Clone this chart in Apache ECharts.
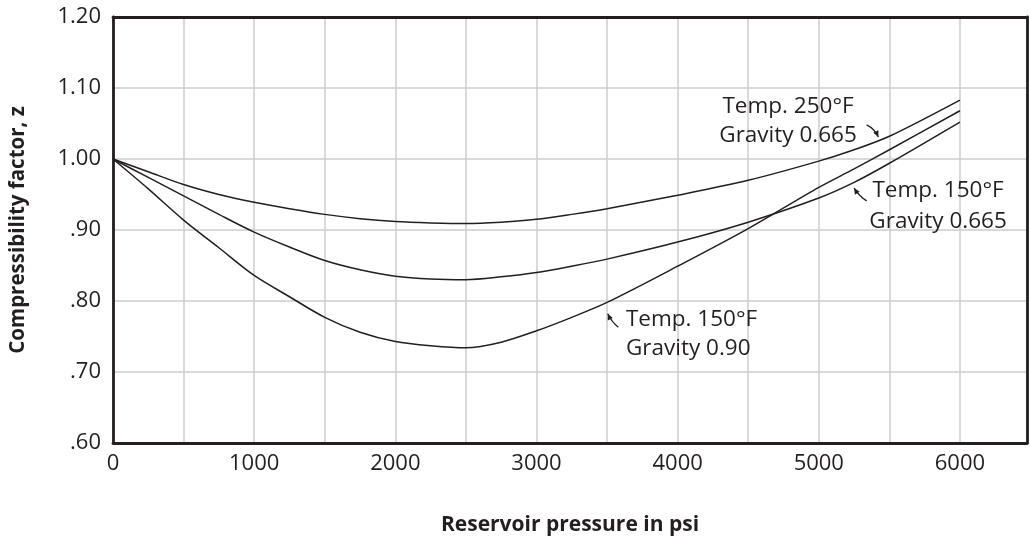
<!DOCTYPE html>
<html>
<head>
<meta charset="utf-8">
<title>Compressibility factor vs reservoir pressure</title>
<script src="https://cdn.jsdelivr.net/npm/echarts@6/dist/echarts.min.js"></script>
<style>
  html, body { margin: 0; padding: 0; background: #ffffff; }
  #chart { width: 1030px; height: 541px; }
</style>
</head>
<body>
<div id="chart"></div>
<script>
// Reservoir pressure (psi) at which each curve is sampled
const pressure = [0, 250, 500, 750, 1000, 1250, 1500, 1750, 2000, 2250, 2500, 2750, 3000, 3250, 3500, 4000, 4500, 5000, 5250, 5500, 6000];

// Compressibility factor z for each gas
const zTemp250Grav0665 = [1.000, 0.982, 0.964, 0.950, 0.939, 0.930, 0.922, 0.916, 0.912, 0.910, 0.909, 0.911, 0.915, 0.922, 0.930, 0.949, 0.970, 0.997, 1.013, 1.032, 1.083];
const zTemp150Grav0665 = [1.000, 0.974, 0.948, 0.922, 0.897, 0.876, 0.857, 0.844, 0.835, 0.831, 0.830, 0.834, 0.840, 0.849, 0.859, 0.883, 0.911, 0.945, 0.967, 0.994, 1.052];
const zTemp150Grav090  = [1.000, 0.958, 0.914, 0.875, 0.836, 0.806, 0.777, 0.756, 0.743, 0.737, 0.734, 0.742, 0.758, 0.777, 0.798, 0.849, 0.902, 0.960, 0.986, 1.013, 1.068];

// Tick labels
const yTickLabels = ['.60', '.70', '.80', '.90', '1.00', '1.10', '1.20'];
const xTickLabels = ['0', '1000', '2000', '3000', '4000', '5000', '6000'];

const INK = '#231f20';
const GRID = '#cdcdcd';
const FONT = '"Open Sans", "Noto Sans", sans-serif';

const chart = echarts.init(document.getElementById('chart'), null, { renderer: 'canvas' });

function curve(name, values) {
  return {
    name: name,
    type: 'line',
    data: pressure.map((p, i) => [p, values[i]]),
    smooth: 0.3,
    symbol: 'none',
    lineStyle: { color: INK, width: 1.5 },
    z: 5
  };
}

const frameLine = { show: true, onZero: false, lineStyle: { color: INK, width: 2.8 } };

chart.setOption({
  animation: false,
  backgroundColor: '#ffffff',
  grid: { left: 113, right: 3, top: 17, bottom: 98, containLabel: false, outerBoundsMode: 'none' },
  xAxis: [
    {
      type: 'value', min: 0, max: 6475, interval: 500,
      axisLine: frameLine,
      axisTick: { show: false },
      splitLine: { show: true, lineStyle: { color: GRID, width: 1.5 } },
      axisLabel: {
        color: INK, fontSize: 22, fontFamily: FONT, margin: 10,
        formatter: v => (v % 1000 === 0 ? xTickLabels[v / 1000] || '' : '')
      },
      name: 'Reservoir pressure in psi',
      nameLocation: 'middle', nameGap: 72,
      nameTextStyle: { color: INK, fontSize: 21, fontWeight: 'bold', fontFamily: FONT }
    },
    {
      type: 'value', position: 'top', min: 0, max: 6475,
      axisLine: frameLine, axisTick: { show: false },
      axisLabel: { show: false }, splitLine: { show: false }
    }
  ],
  yAxis: [
    {
      type: 'value', min: 0.6, max: 1.2, interval: 0.1,
      axisLine: frameLine,
      axisTick: { show: false },
      splitLine: { show: true, lineStyle: { color: GRID, width: 1.5 } },
      axisLabel: {
        color: INK, fontSize: 22, fontFamily: FONT, margin: 12,
        formatter: v => yTickLabels[Math.round((v - 0.6) * 10)] || ''
      },
      name: 'Compressibility factor, z',
      nameLocation: 'middle', nameGap: 84, nameRotate: 90,
      nameTextStyle: { color: INK, fontSize: 20.5, fontWeight: 'bold', fontFamily: FONT }
    },
    {
      type: 'value', position: 'right', min: 0.6, max: 1.2,
      axisLine: frameLine, axisTick: { show: false },
      axisLabel: { show: false }, splitLine: { show: false }
    }
  ],
  series: [
    curve('Temp. 250°F, Gravity 0.665', zTemp250Grav0665),
    curve('Temp. 150°F, Gravity 0.665', zTemp150Grav0665),
    curve('Temp. 150°F, Gravity 0.90', zTemp150Grav090)
  ]
});

// Curve labels with small pointer arrows, anchored in data coordinates
const notes = [
  { text: 'Temp. 250°F\nGravity 0.665', at: [4782, 1.053], align: 'center', lineHeight: 29,
    arrow: { from: [5339, 1.048], to: [5422, 1.031], bend: 3 } },
  { text: 'Temp. 150°F\nGravity 0.665', at: [5845, 0.933], align: 'center', lineHeight: 31,
    arrow: { from: [5339, 0.941], to: [5250, 0.959], bend: 2 } },
  { text: 'Temp. 150°F\nGravity 0.90', at: [3634, 0.7535], align: 'left', lineHeight: 29.5,
    arrow: { from: [3580, 0.763], to: [3505, 0.782], bend: 2 } }
];

function toPx(pt) {
  return chart.convertToPixel({ xAxisIndex: 0, yAxisIndex: 0 }, pt);
}

const elements = [];
notes.forEach(n => {
  const p = toPx(n.at);
  elements.push({
    type: 'text', x: p[0], y: p[1], z: 20,
    style: {
      text: n.text, fill: INK, fontSize: 22.5, fontFamily: FONT,
      align: n.align, verticalAlign: 'middle', lineHeight: n.lineHeight
    }
  });
  const a = toPx(n.arrow.from);
  const b = toPx(n.arrow.to);
  const dx = b[0] - a[0], dy = b[1] - a[1];
  const len = Math.hypot(dx, dy);
  const nx = dy / len, ny = -dx / len;
  const c = [(a[0] + b[0]) / 2 + nx * n.arrow.bend, (a[1] + b[1]) / 2 + ny * n.arrow.bend];
  elements.push({
    type: 'bezierCurve', z: 20,
    shape: { x1: a[0], y1: a[1], x2: b[0], y2: b[1], cpx1: c[0], cpy1: c[1] },
    style: { stroke: INK, lineWidth: 1.3, fill: 'none' }
  });
  const ux = b[0] - c[0], uy = b[1] - c[1];
  const ul = Math.hypot(ux, uy);
  const tx = ux / ul, ty = uy / ul;
  const L = 6, W = 2.8;
  elements.push({
    type: 'polygon', z: 20,
    shape: { points: [
      [b[0], b[1]],
      [b[0] - L * tx - W * ty, b[1] - L * ty + W * tx],
      [b[0] - L * tx + W * ty, b[1] - L * ty - W * tx]
    ] },
    style: { fill: INK, stroke: 'none' }
  });
});

chart.setOption({ graphic: elements });
</script>
</body>
</html>
